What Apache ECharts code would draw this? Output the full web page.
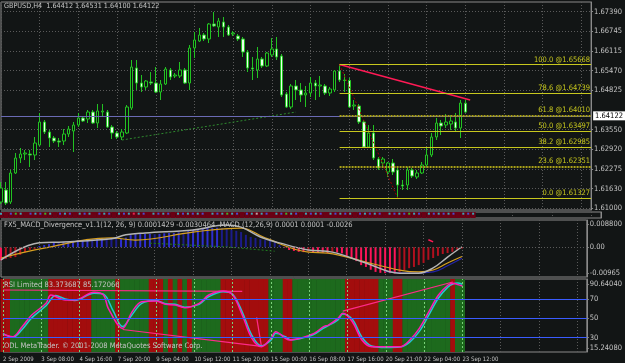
<!DOCTYPE html>
<html><head><meta charset="utf-8">
<script src="https://cdn.jsdelivr.net/npm/echarts@6/dist/echarts.min.js"></script>
<style>html,body{margin:0;padding:0;background:#121515;}#c{width:625px;height:363px;}</style>
</head><body><div id="c"></div>
<script>
const FONT = '"Liberation Sans Narrow","DejaVu Sans Condensed","Arial Narrow",sans-serif';
const totalSlots = 123;
const timeLabels = ['2 Sep 2009','3 Sep 08:00','4 Sep 16:00','7 Sep 20:00','9 Sep 04:00','10 Sep 12:00','11 Sep 20:00','15 Sep 00:00','16 Sep 08:00','17 Sep 16:00','20 Sep 21:00','22 Sep 04:00','23 Sep 12:00'];
const priceTicks = [1.67390,1.66745,1.66115,1.65470,1.64825,1.63550,1.62920,1.62275,1.61630,1.61000];
const bidPrice = 1.64122;
// [open, close, low, high]
const candles = [
[1.61195,1.61651,1.61130,1.61846],[1.61586,1.61162,1.61097,1.61846],[1.61195,1.62139,1.61130,1.62237],[1.62139,1.62627,1.62106,1.62790],
[1.62627,1.62757,1.62464,1.62953],[1.62757,1.62790,1.62562,1.62888],[1.62757,1.62725,1.62334,1.62888],[1.62725,1.63115,1.62562,1.63311],
[1.63050,1.63799,1.63018,1.64092],[1.63799,1.63473,1.63408,1.63864],[1.63473,1.63278,1.62985,1.63539],[1.63278,1.63180,1.63115,1.63343],
[1.63180,1.63148,1.62985,1.63278],[1.63180,1.63408,1.63050,1.63571],[1.63408,1.63571,1.63311,1.63669],[1.63506,1.63701,1.62822,1.63799],
[1.63701,1.63929,1.63636,1.64092],[1.63929,1.63831,1.63799,1.63994],[1.63897,1.64124,1.63766,1.64190],[1.64124,1.63766,1.63734,1.64190],
[1.63766,1.64157,1.63604,1.64385],[1.64124,1.64157,1.63962,1.64385],[1.64124,1.63636,1.63604,1.64190],[1.63636,1.63441,1.63246,1.63701],
[1.63441,1.63311,1.63246,1.63506],[1.63311,1.63473,1.63213,1.63571],[1.63441,1.64287,1.63408,1.64352],[1.64255,1.65589,1.64190,1.65817],
[1.65557,1.65068,1.64841,1.65817],[1.65068,1.64938,1.64775,1.65329],[1.64938,1.65133,1.64841,1.65166],[1.65101,1.65068,1.65003,1.65426],
[1.65068,1.64775,1.64743,1.65589],[1.64775,1.65036,1.64515,1.65166],[1.65036,1.65524,1.65003,1.65589],[1.65492,1.65264,1.65166,1.65557],
[1.65296,1.65329,1.65231,1.65394],[1.65296,1.65492,1.65231,1.65752],[1.65492,1.65068,1.65036,1.65557],[1.65068,1.66208,1.64841,1.66305],
[1.66208,1.66468,1.65882,1.66728],[1.66435,1.66631,1.66403,1.66859],[1.66631,1.66501,1.66435,1.66696],[1.66501,1.66989,1.66370,1.67021],
[1.66989,1.66924,1.66891,1.67379],[1.66891,1.67086,1.66566,1.67184],[1.67054,1.66891,1.66566,1.67217],[1.66891,1.66631,1.66598,1.66956],
[1.66663,1.66696,1.66598,1.66761],[1.66598,1.66501,1.66435,1.66663],[1.66501,1.66077,1.65915,1.66566],[1.66077,1.65557,1.65426,1.66143],
[1.65557,1.65524,1.65166,1.65915],[1.65492,1.65850,1.65231,1.66240],[1.65850,1.65622,1.65557,1.65915],[1.65622,1.66045,1.65589,1.66077],
[1.65980,1.66175,1.65915,1.66533],[1.66175,1.65915,1.65817,1.66566],[1.65947,1.64678,1.64613,1.66012],[1.64710,1.64287,1.64255,1.64775],
[1.64287,1.64971,1.64222,1.65036],[1.64971,1.64841,1.64515,1.65166],[1.64841,1.64678,1.64450,1.65068],[1.64678,1.64743,1.64287,1.64971],
[1.64743,1.65068,1.64613,1.65264],[1.65068,1.64971,1.64515,1.65166],[1.64971,1.65003,1.64613,1.65296],[1.64971,1.64743,1.64678,1.65036],
[1.64743,1.64873,1.64645,1.64938],[1.64841,1.65459,1.64775,1.65492],[1.65459,1.65166,1.65101,1.65668],[1.65166,1.65150,1.64775,1.65361],
[1.65150,1.64287,1.64255,1.65231],[1.64320,1.64352,1.64190,1.64515],[1.64320,1.63799,1.63734,1.64385],[1.63799,1.62985,1.62953,1.63864],
[1.62985,1.63441,1.62953,1.63701],[1.63441,1.62627,1.62562,1.63701],[1.62595,1.62302,1.62237,1.62660],[1.62464,1.62595,1.62367,1.62660],
[1.62171,1.62464,1.62009,1.62497],[1.62464,1.62171,1.62074,1.62595],[1.62237,1.61748,1.61327,1.62302],[1.61748,1.61716,1.61586,1.61911],
[1.61748,1.62237,1.61586,1.62334],[1.62237,1.62041,1.61976,1.62302],[1.62009,1.62139,1.61944,1.62237],[1.62139,1.62399,1.62106,1.62497],
[1.62399,1.62725,1.62334,1.62985],[1.62725,1.63311,1.62660,1.63441],[1.63311,1.63766,1.63213,1.63929],[1.63766,1.63669,1.63376,1.63864],
[1.63701,1.63799,1.63604,1.64059],[1.63734,1.63831,1.63539,1.64027],[1.63799,1.63604,1.63473,1.64092],[1.63604,1.64417,1.63278,1.64515],
[1.64412,1.64122,1.64100,1.64531]
];
const fibLevels = [100.0, 78.6, 61.8, 50.0, 38.2, 23.6, 0.0];
const fibPrices = [1.65668, 1.64739, 1.64010, 1.63497, 1.62985, 1.62351, 1.61327];
const fibStartBar = 70, fibLowBar = 82;
const redTrend = [[70, 1.65668], [97, 1.64515]];
const greenTrend = [[25, 1.63213], [61, 1.64124]];
const stripCodes = 'c.bgc.bcbg' + 'c.bcb.cbc.' + 'bcb.cbcrcb' + '.cbcb.cbcb' + 'cb.cbcgcb.' + 'bcwcb.cbgc' + 'b.cbcb.cbc' + 'bc.bcbcb.c' + 'bcbgcb.cbc' + 'bcb.cbc';
const macdHist = [-0.0042,-0.0038,-0.0035,-0.0032,-0.0025,-0.0016,-0.0009,-0.0006,
 0.0004,0.0007,0.0010,0.0014,0.0013,0.0017,0.0017,0.0020,0.0023,0.0023,0.0027,0.0026,
 0.0030,0.0030,0.0029,0.0028,0.0027,0.0027,0.0031,0.0039,0.0042,0.0043,
 0.0043,0.0043,0.0042,0.0043,0.0045,0.0046,0.0046,0.0048,0.0047,0.0052,
 0.0056,0.0059,0.0059,0.0062,0.0062,0.0063,0.0062,0.0059,0.0056,0.0053,
 0.0049,0.0040,0.0033,0.0030,0.0026,0.0023,0.0020,0.0017,0.0007,-0.0002,
 -0.0009,-0.0012,-0.0015,-0.0016,-0.0015,-0.0016,-0.0016,-0.0018,-0.0019,-0.0015,
 -0.0017,-0.0020,-0.0028,-0.0035,-0.0045,-0.0058,-0.0064,-0.0073,-0.0080,-0.0083,
 -0.0084,-0.0084,-0.0085,-0.0082,-0.0074,-0.0068,-0.0064,-0.0058,-0.0051,-0.0041,
 -0.0035,-0.0028,-0.0022,-0.0019,-0.0015,-0.0008,-0.0004];
const macdMain = [[0,-0.0041],[8,0.0014],[13,0.0017],[23,0.0027],[26,0.0040],[30,0.0046],[40,0.0056],[47,0.0072],[50,0.0065],[54,0.0033],[58,0.0014],[64,-0.0009],[69,-0.0016],[76,-0.0051],[83,-0.0084],[87,-0.0084],[90,-0.0067],[93,-0.0032],[96,0.00014]];
const macdSignal = [[0,-0.0035],[9,-0.0003],[23,0.0030],[28,0.0023],[40,0.0049],[50,0.0062],[55,0.0030],[64,-0.0016],[68,-0.0019],[76,-0.0048],[83,-0.0074],[87,-0.0080],[90,-0.0074],[93,-0.0051],[96,-0.0030]];
const macdNavy = [[80,-0.0078],[85,-0.0084],[90,-0.0080],[93,-0.0060],[96,-0.0036]];
const macdGreen = [[31,0.0013],[47,0.0001],[57,-0.0013]];
const macdRedTick = [[89,0.0024],[90,0.0017]];
const rsiBands = 'RR' + 'GGGGGGGG' + 'RRRRRRRRR' + 'GGGGG' + 'R' + 'GGGGGG' + 'RRR' + 'GRGRGR' + 'GGGGGG' + 'RRRRRRRRRR' + 'GGG' + 'RR' + 'GGGGGGGGGGG' + 'RRRRRRR' + 'GGG' + 'RR' + 'GGGGGGGGGG' + 'R' + 'GG';
const rsiPink = [[0,33.5],[2,31.0],[4,41.4],[6,53.4],[9,65.5],[10,74.1],[13,69.0],[15,69.0],[19,76.9],[21,74.1],[22,60.4],[25,39.7],[27,56.9],[29,67.2],[32,67.9],[34,64.5],[36,63.8],[38,61.0],[41,65.5],[43,74.1],[46,78.2],[48,74.1],[50,53.4],[52,29.4],[54,20.7],[56,29.4],[57,36.2],[59,29.4],[60,27.6],[62,29.4],[65,34.5],[67,41.4],[68,43.1],[70,50.0],[71,55.2],[73,46.5],[75,27.6],[77,20.7],[80,20.7],[83,20.7],[85,27.6],[87,39.7],[89,56.9],[91,74.1],[93,84.4],[94,86.2],[95,85.0],[96,83.4]];
const rsiCyan = [[0,34.5],[2,30.5],[4,38.5],[6,50.5],[9,63.0],[11,73.5],[13,70.0],[15,68.5],[19,76.0],[21,75.0],[23,58.0],[25,41.5],[27,54.0],[29,65.5],[32,68.5],[34,65.0],[36,64.5],[38,61.5],[41,64.5],[43,72.5],[46,77.5],[48,75.0],[50,56.5],[52,32.5],[54,21.5],[56,27.5],[57,34.5],[59,31.0],[60,28.0],[62,29.0],[65,33.5],[67,40.0],[68,42.5],[70,48.5],[71,54.5],[73,49.0],[75,30.5],[77,21.5],[80,20.0],[83,20.5],[85,25.5],[87,36.5],[89,53.5],[91,71.0],[93,82.5],[94,85.5],[95,86.5],[96,85.2]];
const rsiTrends = [[[0,79.3],[50,77.8]], [[25,38.5],[54,21.0]], [[53,51.0],[54,21.0]], [[71,57.5],[94,87.5]]];
const rsiLevels = [70, 50, 30];

const cats = Array.from({length: totalSlots}, (_, i) => String(i));
const txt = '#c4c4c4';
const gridLine = {show: true, interval: (i) => i % 8 === 0, lineStyle: {color: '#5a5a5a', type: [1, 2], width: 1}};
function xAx(gi, showLabels) {
  return {type: 'category', gridIndex: gi, data: cats, boundaryGap: false,
    axisLine: {show: false}, axisTick: {show: false},
    axisLabel: showLabels ? {show: true, interval: (i) => i % 8 === 0 && i / 8 < timeLabels.length,
      formatter: (v, i) => timeLabels[Math.round(Number(v) / 8)] || '', align: 'left', color: txt, fontSize: 6, fontFamily: FONT, margin: 4} : {show: false},
    splitLine: gridLine};
}
const grids = [
  {left: 1, top: 2, width: 600, height: 208},
  {left: 1, top: 212, width: 600, height: 6},
  {left: 1, top: 220, width: 600, height: 57},
  {left: 1, top: 279, width: 600, height: 73}
].map(g => Object.assign(g, {show: true, borderColor: '#8a8a8a', borderWidth: 1, backgroundColor: 'transparent'}));

const labelBase = {color: txt, fontSize: 7.5, fontFamily: FONT, margin: 3};
const yAxes = [
  {type: 'value', gridIndex: 0, position: 'right', min: 1.60935, max: 1.67705,
   axisLine: {show: true, lineStyle: {color: '#8a8a8a'}},
   axisTick: {show: true, length: 2, customValues: priceTicks, lineStyle: {color: '#8a8a8a'}},
   axisLabel: Object.assign({customValues: priceTicks, formatter: v => v.toFixed(5)}, labelBase),
   splitLine: {show: true, lineStyle: {color: '#5a5a5a', type: [1, 2]}}},
  {type: 'value', gridIndex: 1, position: 'right', min: 0, max: 1, axisLine: {show: true, lineStyle: {color: '#8a8a8a'}}, axisLabel: {show: false}, axisTick: {show: false}, splitLine: {show: false}},
  {type: 'value', gridIndex: 2, position: 'right', min: -0.00965, max: 0.0088,
   axisLine: {show: true, lineStyle: {color: '#8a8a8a'}},
   axisTick: {show: true, length: 2, customValues: [0.0075, 0, -0.0084], lineStyle: {color: '#8a8a8a'}},
   axisLabel: Object.assign({customValues: [0.0075, 0, -0.0084], formatter: v => v > 0.001 ? '0.008800' : (v < -0.001 ? '-0.00965' : '0.00')}, labelBase),
   splitLine: {show: false}},
  {type: 'value', gridIndex: 3, position: 'right', min: 15.24, max: 90.64,
   axisLine: {show: true, lineStyle: {color: '#8a8a8a'}},
   axisTick: {show: true, length: 2, customValues: [85.5, 70, 50, 30, 19.4], lineStyle: {color: '#8a8a8a'}},
   axisLabel: Object.assign({customValues: [85.5, 70, 50, 30, 19.4], formatter: v => v > 80 ? '90.64040' : (v < 25 ? '15.24080' : String(Math.round(v)))}, labelBase),
   splitLine: {show: false}}
];

const fibColor = '#c8c81e';
const fibMarks = fibLevels.map((lvl, k) => {
  const dotted = (lvl === 61.8 || lvl === 23.6);
  return [{coord: [fibStartBar, fibPrices[k]],
    lineStyle: {color: dotted ? '#a8a018' : fibColor, width: dotted ? 2 : 1, type: dotted ? [2, 1] : 'solid'},
    label: {show: true, position: 'insideEndTop', formatter: lvl.toFixed(1) + ' @' + fibPrices[k].toFixed(5), color: fibColor, fontSize: 7.5, fontFamily: FONT, distance: 1}},
    {coord: [totalSlots - 1, fibPrices[k]]}];
});

const stripColors = {c: '#30d0e0', b: '#4060ff', g: '#30e030', w: '#d0d0d0', r: '#ff3060'};
const stripDots = [];
for (let i = 0; i < stripCodes.length; i++) { const c = stripCodes[i]; if (stripColors[c]) stripDots.push({value: [i, 0.72], itemStyle: {color: stripColors[c]}}); }

const histData = macdHist.map((v, i) => {
  const prev = i > 0 ? macdHist[i - 1] : v;
  let col;
  if (v >= 0) col = v >= prev ? '#2e2ed0' : '#1c1c8a';
  else col = v <= prev ? '#ff1458' : '#b0101e';
  return {value: v, itemStyle: {color: col}};
});

const bandData = candles.map((_, i) => ({value: 90.64, itemStyle: {color: rsiBands[i] === 'R' ? '#a30d0d' : '#1d6a1d'}}));

const series = [
  {type: 'candlestick', xAxisIndex: 0, yAxisIndex: 0, data: candles, barWidth: 3,
   itemStyle: {color: '#0e1210', color0: '#eaffea', borderColor: '#22c222', borderColor0: '#22c222', borderWidth: 1},
   markLine: {silent: true, symbol: ['none', 'none'], animation: false,
     data: [{yAxis: bidPrice, lineStyle: {color: '#6a6ab4', type: 'solid', width: 1},
       label: {show: true, position: 'end', formatter: bidPrice.toFixed(5), backgroundColor: '#ffffff', color: '#000000', padding: [1, 2, 0, 2], fontSize: 7.5, fontFamily: FONT, distance: 2}}].concat(fibMarks)}},
  {type: 'line', xAxisIndex: 0, yAxisIndex: 0, data: greenTrend, symbol: 'none', lineStyle: {color: '#2e8a2e', width: 1, type: [2, 2]}, z: 1},
  {type: 'line', xAxisIndex: 0, yAxisIndex: 0, data: [[fibStartBar, fibPrices[0]], [fibLowBar, fibPrices[6]]], symbol: 'none', lineStyle: {color: '#a00000', width: 1, type: [2, 2]}},
  {type: 'line', xAxisIndex: 0, yAxisIndex: 0, data: redTrend, symbol: 'none', lineStyle: {color: '#ff1a55', width: 1.5}},
  {type: 'bar', xAxisIndex: 1, yAxisIndex: 1, data: candles.map(() => 1), barWidth: 5, itemStyle: {color: '#6a0014'}},
  {type: 'scatter', xAxisIndex: 1, yAxisIndex: 1, data: stripDots, symbol: 'rect', symbolSize: [2, 2]},
  {type: 'bar', xAxisIndex: 2, yAxisIndex: 2, data: histData, barWidth: 2,
   markLine: {silent: true, symbol: ['none', 'none'], label: {show: false}, data: [{yAxis: 0}], lineStyle: {color: '#5a5a5a', type: [1, 2], width: 1}}},
  {type: 'line', xAxisIndex: 2, yAxisIndex: 2, data: macdGreen, symbol: 'none', lineStyle: {color: '#1f7a1f', width: 1, type: [2, 2]}},
  {type: 'line', xAxisIndex: 2, yAxisIndex: 2, data: macdNavy, symbol: 'none', smooth: 0.4, lineStyle: {color: '#2424a8', width: 1.2}},
  {type: 'line', xAxisIndex: 2, yAxisIndex: 2, data: macdSignal, symbol: 'none', smooth: 0.4, lineStyle: {color: '#d8a020', width: 1.2}},
  {type: 'line', xAxisIndex: 2, yAxisIndex: 2, data: macdMain, symbol: 'none', smooth: 0.4, lineStyle: {color: '#b4b4b4', width: 1.5}},
  {type: 'line', xAxisIndex: 2, yAxisIndex: 2, data: macdRedTick, symbol: 'none', lineStyle: {color: '#ff1a55', width: 1.5}},
  {type: 'bar', xAxisIndex: 3, yAxisIndex: 3, data: bandData, barWidth: 5.2,
   markLine: {silent: true, symbol: ['none', 'none'], label: {show: false}, animation: false,
     data: timeLabels.map((t, k) => ({xAxis: k * 8, lineStyle: {color: '#7ad07a', type: [2, 2], width: 1}}))
       .concat(rsiLevels.map(l => ({yAxis: l, lineStyle: {color: '#3a5cff', type: 'solid', width: 1.2}})))}}
];
rsiTrends.forEach(t => series.push({type: 'line', xAxisIndex: 3, yAxisIndex: 3, data: t, symbol: 'none', lineStyle: {color: '#ff2a8a', width: 1.2}}));
series.push({type: 'line', xAxisIndex: 3, yAxisIndex: 3, data: rsiCyan, symbol: 'none', smooth: 0.35, lineStyle: {color: '#22c8d2', width: 1.5}});
series.push({type: 'line', xAxisIndex: 3, yAxisIndex: 3, data: rsiPink, symbol: 'none', smooth: 0.35, lineStyle: {color: '#ff1ab4', width: 1.5}});

const textEl = (x, y, s, fs) => ({type: 'text', left: x, top: y, z: 100, style: {text: s, fill: txt, font: (fs || 7.5) + 'px ' + FONT}});
const chart = echarts.init(document.getElementById('c'), null, {renderer: 'canvas'});
chart.setOption({
  backgroundColor: '#121515', animation: false, textStyle: {fontFamily: FONT},
  grid: grids,
  xAxis: [xAx(0, false), xAx(1, false), xAx(2, false), xAx(3, true)],
  yAxis: yAxes,
  series: series,
  graphic: [
    textEl(4, 3, 'GBPUSD,H4  1.64412 1.64531 1.64100 1.64122', 7.2),
    textEl(4, 221, 'FX5_MACD_Divergence_v1.1(12, 26, 9) 0.0001429 -0.0030464  MACD (12,26,9) 0.0001 0.0001 -0.0026'),
    textEl(4, 281, 'RSI Limited 83.373687 85.172066'),
    textEl(4, 342, 'ODL MetaTrader. \u00A9 2001-2008 MetaQuotes Software Corp.')
  ]
});
</script></body></html>
